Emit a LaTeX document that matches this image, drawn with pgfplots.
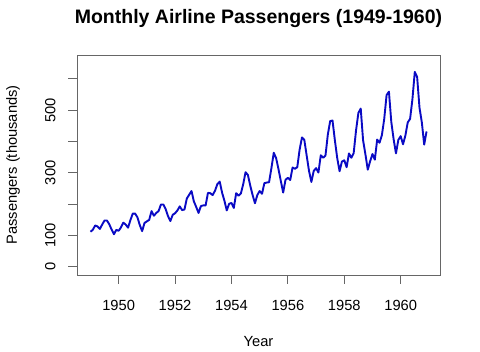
\documentclass[border=0pt]{standalone}
\usepackage{pgfplots}
\pgfplotsset{compat=1.18}
\usepackage{pgfplotstable}
\usepackage{fontspec}
\setmainfont{Liberation Sans}
\definecolor{lineblue}{HTML}{0A0AC4}
\pgfplotstableread{
y
112
118
132
129
121
135
148
148
136
119
104
118
115
126
141
135
125
149
170
170
158
133
114
140
145
150
178
163
172
178
199
199
184
162
146
166
171
180
193
181
183
218
230
242
209
191
172
194
196
196
236
235
229
243
264
272
237
211
180
201
204
188
235
227
234
264
302
293
259
229
203
229
242
233
267
269
270
315
364
347
312
274
237
278
284
277
317
313
318
374
413
405
355
306
271
306
315
301
356
348
355
422
465
467
404
347
305
336
340
318
362
348
363
435
491
505
404
359
310
337
360
342
406
396
420
472
548
559
463
407
362
405
417
391
419
461
472
535
622
606
508
461
390
432
}\airdata
\begin{document}
\begin{tikzpicture}[x=1pt,y=1pt]
\begin{axis}[
  at={(77pt,77pt)}, anchor=south west,
  scale only axis, width=363pt, height=220pt,
  xmin=1948.523, xmax=1961.394, ymin=-26, ymax=676,
  axis line style={black!60, line width=0.8pt},
  tick style={black!60, line width=0.8pt},
  tick align=outside, major tick length=9pt,
  xtick pos=bottom, ytick pos=left,
  xtick={1950,1952,...,1960},
  xticklabels={1950,1952,1954,1956,1958,1960},
  ytick={0,100,...,600},
  yticklabels={0,100,,300,,500,},
  ticklabel style={font=\fontsize{14.7}{17}\selectfont},
  /pgf/number format/assume math mode=true,
  xticklabel style={anchor=north, yshift=-13pt},
  yticklabel style={xshift=-9pt, rotate=90, anchor=south},
  clip=false,
]
\addplot[lineblue, line width=1.9pt, line join=round] table[x expr=1949+\coordindex/12, y=y] {\airdata};
\node[font=\fontsize{19.5}{22}\selectfont\bfseries, anchor=base] at (rel axis cs:0.5,1) [yshift=31.5pt] {Monthly Airline Passengers (1949-1960)};
\node[font=\fontsize{14.7}{17}\selectfont] at (rel axis cs:0.5,0) [yshift=-67pt] {Year};
\node[font=\fontsize{14.7}{17}\selectfont, xshift=-64pt, rotate=90] at (rel axis cs:0,0.5) {Passengers (thousands)};
\end{axis}
\pgfresetboundingbox
\useasboundingbox (0,0) rectangle (480,352);
\end{tikzpicture}
\end{document}
